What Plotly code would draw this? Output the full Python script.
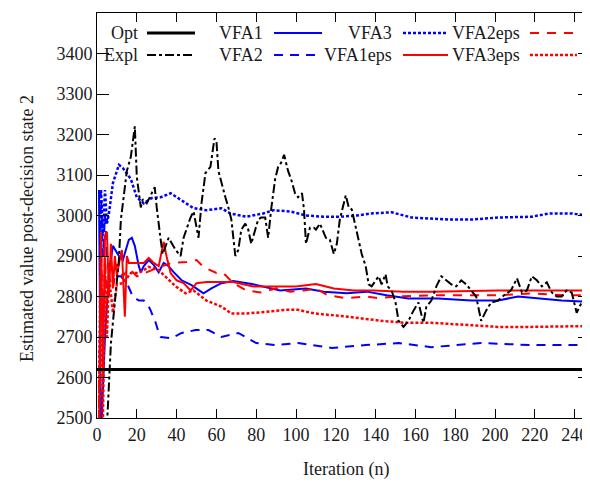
import plotly.graph_objects as go

# ---------------- data ----------------
opt_x = [0, 248]
opt_y = [2620, 2620]

expl_x = [1, 3, 5, 7, 11, 12, 15, 17, 19, 20, 22, 23, 25, 29, 30, 32, 33, 36, 39.5, 42, 43.5, 47, 48.5, 51,
          52.5, 54.5, 57, 59, 60, 61, 62.5, 64.5, 66, 67.5, 69.5, 71, 72.5, 74.5, 76, 77.5, 79.5, 81, 82.5,
          84.5, 86, 87.5, 89.5, 91, 92.5, 94, 96, 97.5, 99.5, 101, 103, 104, 105, 107, 109, 110, 112, 114,
          115, 117, 119, 120.5, 122, 125, 126.5, 128, 130, 131.5, 133, 135, 136.5, 138, 140, 141.5, 143, 145,
          146, 148, 150, 151.5, 154, 156.5, 159, 161.5, 164, 165.5, 168, 170.5, 173, 175.5, 178, 180.5, 183,
          185.5, 188, 190.5, 193, 195.5, 198, 201.5, 205, 208, 211, 213.5, 216, 218.5, 221, 223.5, 226, 228.5,
          231, 233.5, 236, 238.5, 241, 243.5, 246]
expl_y = [2300, 2400, 2480, 2685, 2890, 2990, 3110, 3145, 3220, 3095, 3020, 3040, 3030, 3070, 3020, 2940, 2905,
          2945, 2915, 2900, 2945, 2995, 3010, 2945, 3030, 3105, 3120, 3190, 3185, 3110, 3080, 3045, 3020, 2990,
          2900, 2915, 2965, 2980, 2965, 2930, 2965, 2990, 2995, 2995, 2945, 3015, 3090, 3120, 3130, 3150, 3110,
          3090, 3055, 3045, 3055, 3015, 2930, 2970, 2970, 2965, 2980, 2955, 2945, 2940, 2905, 2930, 2990, 3050,
          3020, 3015, 2970, 2940, 2905, 2875, 2830, 2825, 2840, 2850, 2830, 2855, 2825, 2815, 2785, 2740, 2725,
          2740, 2765, 2785, 2735, 2775, 2790, 2825, 2850, 2840, 2830, 2825, 2840, 2830, 2815, 2800, 2740, 2765,
          2785, 2790, 2805, 2815, 2845, 2810, 2815, 2850, 2840, 2825, 2835, 2810, 2800, 2800, 2815, 2810, 2760,
          2785, 2810]

vfa1_x = [1, 2, 4, 6, 8, 11, 13, 16, 17.5, 19, 21, 22, 23.5, 26, 28.5, 31, 33.5, 36, 38.5, 42.5, 47.5, 51,
          53.5, 57.5, 62.5, 68.5, 78.5, 92, 105, 114, 125.5, 135.5, 145.5, 156.5, 171.5, 188, 201.5, 211.5,
          222, 233.5, 247]
vfa1_y = [3063, 2450, 2700, 2860, 2925, 2900, 2890, 2940, 2945, 2925, 2875, 2860, 2875, 2890, 2878, 2860, 2883,
          2875, 2860, 2840, 2828, 2815, 2808, 2820, 2833, 2838, 2830, 2815, 2820, 2812, 2808, 2812, 2803, 2795,
          2795, 2790, 2790, 2800, 2795, 2790, 2787]

vfa2_x = [1, 2, 3, 4, 5, 6, 8, 10, 12, 15, 18, 21, 23.5, 26, 27, 29.5, 31, 32, 37.5, 42.5, 49.5, 56, 62.5, 71,
          80, 90, 101, 118, 135, 151.5, 168, 193, 218.5, 246]
vfa2_y = [2450, 3060, 2900, 3000, 2900, 2880, 2860, 2850, 2850, 2833, 2800, 2790, 2790, 2775, 2765, 2735, 2710,
          2700, 2697, 2710, 2717, 2717, 2700, 2710, 2685, 2680, 2685, 2673, 2680, 2685, 2675, 2685, 2680, 2680]

vfa3_x = [1, 2, 3, 4, 5, 6, 8, 11, 13, 17, 20, 23.5, 27.5, 32, 37, 42, 48.5, 55, 62.5, 67, 75, 83.5, 88.5, 97,
          105, 114, 122, 130.5, 137.5, 148, 158, 176.5, 188, 201.5, 218.5, 227, 238.5, 246]
vfa3_y = [2450, 3065, 2950, 3063, 2980, 3005, 3080, 3125, 3117, 3090, 3045, 3030, 3043, 3045, 3055, 3038, 3018,
          3013, 3018, 3005, 2997, 3005, 3013, 3010, 3000, 2997, 2997, 3000, 3005, 3008, 2995, 2990, 2990, 2995,
          2997, 3005, 3005, 3000]

vfa1eps_x = [1, 2, 3, 4, 5, 6, 7, 8, 9, 10, 11, 12.5, 14, 15, 16, 19, 23.5, 26, 28.5, 31, 33.5, 35, 37, 40, 43.5,
             47, 50, 55, 62, 68.5, 78.5, 89, 100, 110, 119, 129, 139, 154, 168, 201.5, 246]
vfa1eps_y = [2450, 2960, 2600, 2950, 2960, 2800, 2930, 2820, 2900, 2850, 2880, 2915, 2750, 2900, 2883, 2883, 2883,
             2895, 2883, 2875, 2935, 2898, 2858, 2840, 2833, 2815, 2833, 2836, 2836, 2836, 2825, 2825, 2825, 2831,
             2820, 2815, 2815, 2812, 2812, 2815, 2815]

vfa2eps_x = [1, 2, 3, 4, 5, 6, 8, 10, 13, 16, 20, 25, 30, 37.5, 45, 50, 53.5, 60, 63.5, 68.5, 75, 82, 90, 97, 104,
             110, 116, 125, 135, 141.5, 151.5, 168, 185, 201.5, 218.5, 235, 246]
vfa2eps_y = [2450, 2950, 2700, 2900, 2780, 2850, 2820, 2880, 2850, 2870, 2850, 2860, 2870, 2883, 2885, 2890, 2873,
             2858, 2858, 2833, 2815, 2810, 2820, 2812, 2815, 2820, 2803, 2796, 2800, 2796, 2800, 2803, 2803, 2803,
             2808, 2803, 2803]

vfa3eps_x = [1, 2, 3, 4, 5, 6, 8, 10, 13, 17, 21, 26, 31, 36, 39.5, 44.5, 48.5, 55, 62.5, 67.5, 74.5, 85, 95, 101,
             109.5, 126, 143, 155, 168, 185, 201.5, 218.5, 246]
vfa3eps_y = [2450, 2900, 2500, 2880, 2700, 2850, 2760, 2830, 2833, 2858, 2858, 2873, 2865, 2840, 2825, 2808, 2815,
             2790, 2775, 2758, 2758, 2762, 2767, 2767, 2758, 2750, 2740, 2735, 2735, 2730, 2725, 2725, 2727]

x_ticks = list(range(0, 241, 20))
y_ticks = list(range(2500, 3501, 100))

x_title = "Iteration (n)"
y_title = "Estimated value post-decision state 2"

BLUE = "#0000ff"
RED = "#ff0000"
BLACK = "#000000"

series = [
    ("Opt", opt_x, opt_y, BLACK, "solid", 3),
    ("Expl", expl_x, expl_y, BLACK, "9px,3px,3px,3px", 2),
    ("VFA1", vfa1_x, vfa1_y, BLUE, "solid", 2),
    ("VFA2", vfa2_x, vfa2_y, BLUE, "9px,7px", 2),
    ("VFA3", vfa3_x, vfa3_y, BLUE, "3px,2px", 2.5),
    ("VFA1eps", vfa1eps_x, vfa1eps_y, RED, "solid", 2),
    ("VFA2eps", vfa2eps_x, vfa2eps_y, RED, "9px,8px", 2),
    ("VFA3eps", vfa3eps_x, vfa3eps_y, RED, "3px,2px", 2.5),
]

fig = go.Figure()
draw_order = [4, 3, 2, 7, 6, 5, 1, 0]
for i in draw_order:
    name, xs, ys, col, dash, w = series[i]
    fig.add_trace(go.Scatter(x=xs, y=ys, mode="lines", name=name, showlegend=False,
                             line=dict(color=col, dash=dash, width=w)))

# page has an 8px body margin: figure is drawn at (8, 8)
OFF = 8
PAGE_W, PAGE_H = 590, 482
W, H = PAGE_W - OFF, PAGE_H - OFF
PL, PT, PR, PB = 97, 13, 590, 418            # plot area in page pixels
L, T = PL - OFF, PT - OFF
R = W - (PR - OFF)
B = H - (PB - OFF)
pw, ph = PR - PL, PB - PT

def px(xp):
    return (xp - PL) / pw

def py(yp):
    return (PB - yp) / ph

FONT = "'Liberation Serif', 'Times New Roman', 'DejaVu Serif', serif"
TXT = "#1a1a1a"
font18 = dict(family=FONT, size=18, color=TXT)

# ---------- gnuplot-style key (text, then line sample) ----------
rows = [33, 55]
cols = [(140, 147, 195), (265, 274, 322), (394, 403, 448), (522, 530, 577)]
key_pos = [(0, 0), (0, 1), (1, 0), (1, 1), (2, 0), (2, 1), (3, 0), (3, 1)]
for (name, xs, ys, col, dash, w), (c, r) in zip(series, key_pos):
    tx, l0, l1 = cols[c]
    yy = rows[r]
    fig.add_annotation(x=px(tx), y=py(yy), xref="paper", yref="paper", text=name, showarrow=False,
                       xanchor="right", yanchor="middle", font=font18)
    fig.add_shape(type="line", xref="paper", yref="paper", x0=px(l0), x1=px(l1), y0=py(yy), y1=py(yy),
                  line=dict(color=col, dash=dash, width=w))

# axis titles
fig.add_annotation(x=px(346), y=py(469), xref="paper", yref="paper", text=x_title, showarrow=False,
                   xanchor="center", yanchor="middle", font=font18)
fig.add_annotation(x=px(27), y=py(229), xref="paper", yref="paper", text=y_title, showarrow=False,
                   textangle=-90, xanchor="center", yanchor="middle", font=font18)

fig.update_layout(
    width=W, height=H,
    margin=dict(l=L, r=R, t=T, b=B, pad=0),
    plot_bgcolor="white", paper_bgcolor="white",
    font=font18,
    xaxis=dict(range=[0, 247.7], tickvals=x_ticks, ticks="inside", ticklen=9, tickwidth=1, tickcolor="black",
               showline=True, linecolor="black", linewidth=1, mirror="ticks", showgrid=False, zeroline=False,
               tickfont=font18),
    yaxis=dict(range=[2500, 3500], tickvals=y_ticks, ticks="inside", ticklen=12, tickwidth=1, tickcolor="black",
               showline=True, linecolor="black", linewidth=1, mirror="ticks", showgrid=False, zeroline=False,
               tickfont=font18),
)

fig.write_html("out.html")
